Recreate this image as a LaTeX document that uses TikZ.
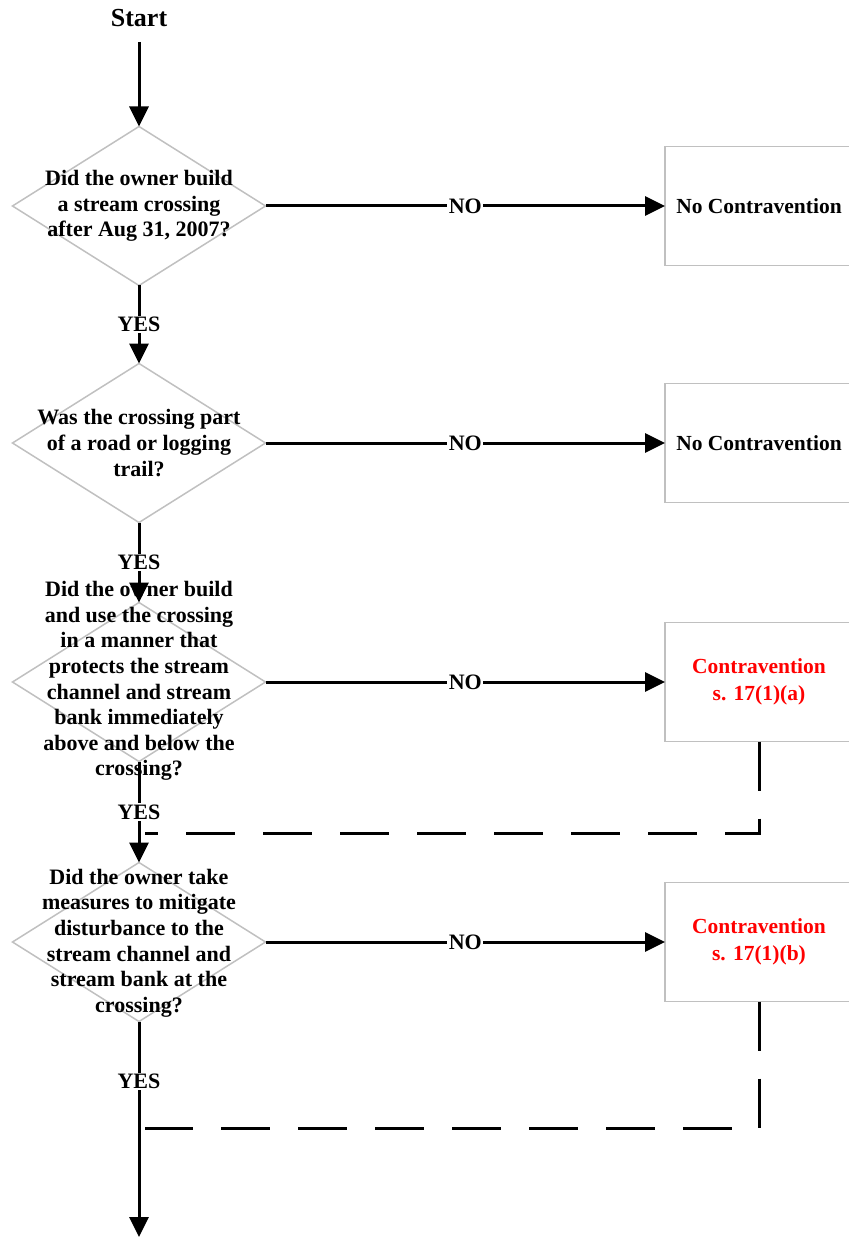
\documentclass[tikz,border=0pt]{standalone}
\usepackage{fontspec}
\setmainfont{Liberation Serif}
\usetikzlibrary{shapes.geometric,arrows.meta}
\definecolor{edgegray}{HTML}{C0C0C0}
\definecolor{redtext}{HTML}{FF0000}
\tikzset{
  decision/.style={diamond, draw=edgegray, line width=1.5pt, minimum width=253pt, minimum height=159pt, inner sep=0pt, outer sep=0pt},
  qtext/.style={align=center, font=\fontsize{22}{25.6}\selectfont\bfseries, inner sep=0pt},
  outcome/.style={rectangle, draw=edgegray, line width=1.5pt, minimum width=188pt, minimum height=119pt, inner sep=0pt, outer sep=0pt, align=center, font=\fontsize{21.5}{26.5}\selectfont\bfseries},
  redout/.style={outcome, text=redtext},
  conn/.style={line width=3pt, -{Triangle[length=20pt,width=19pt]}},
  dashconn/.style={line width=3pt, dash pattern=on 49pt off 28pt},
  lbl/.style={fill=white, inner sep=1.5pt, font=\fontsize{22}{24}\selectfont\bfseries}
}
\begin{document}
\begin{tikzpicture}[x=1pt,y=-1pt]
\useasboundingbox (0,0) rectangle (848,1238);
% start
\node[font=\fontsize{26}{28}\selectfont\bfseries, inner sep=3pt] (start) at (139,18) {Start};
% decisions
\node[decision] (d1) at (139,206) {};
\node[qtext] (t1) at (139,206) {Did the owner build\\a stream crossing\\after Aug 31, 2007?};
\node[decision] (d2) at (139,443) {};
\node[qtext] (t2) at (139,443) {Was the crossing part\\of a road or logging\\trail?};
\node[decision] (d3) at (139,682) {};
\node[qtext] (t3) at (139,681) {Did the owner build\\and use the crossing\\in a manner that\\protects the stream\\channel and stream\\bank immediately\\above and below the\\crossing?};
\node[decision] (d4) at (139,942) {};
\node[qtext] (t4) at (139,943) {Did the owner take\\measures to mitigate\\disturbance to the\\stream channel and\\stream bank at the\\crossing?};
% outcomes
\node[outcome] (b1) at (759,206) {No Contravention};
\node[outcome] (b2) at (759,443) {No Contravention};
\node[redout] (b3) at (759,682) {Contravention\\s. 17(1)(a)};
\node[redout] (b4) at (759,942) {Contravention\\s. 17(1)(b)};
% coordinates
\coordinate (j1) at (145,833);
\coordinate (j2) at (145,1128);
\coordinate (endpt) at (139,1237);
% connectors
\draw[conn, shorten <=12pt] (start.south) -- (d1.north);
\draw[conn] (d1.south) -- node[lbl, pos=0.5] {YES} (d2.north);
\draw[conn] (d2.south) -- node[lbl, pos=0.5] {YES} (d3.north);
\draw[conn] (d3.south) -- node[lbl, pos=0.5] {YES} (d4.north);
\draw[conn] (d4.south) -- node[lbl, pos=0.278] {YES} (endpt);
\draw[conn] (d1.east) -- node[lbl, pos=0.5] {NO} (b1.west);
\draw[conn] (d2.east) -- node[lbl, pos=0.5] {NO} (b2.west);
\draw[conn] (d3.east) -- node[lbl, pos=0.5] {NO} (b3.west);
\draw[conn] (d4.east) -- node[lbl, pos=0.5] {NO} (b4.west);
\draw[dashconn] (b3.south) |- (j1);
\draw[dashconn] (b4.south) |- (j2);
\end{tikzpicture}
\end{document}
